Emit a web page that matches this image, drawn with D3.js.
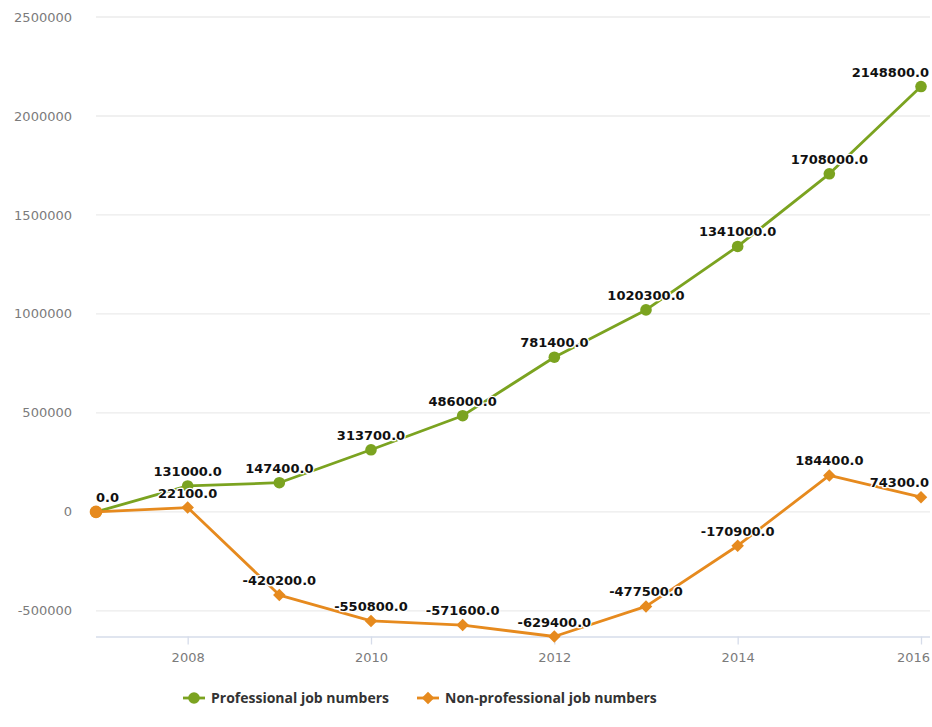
<!DOCTYPE html>
<html>
<head>
<meta charset="utf-8">
<script src="https://cdn.jsdelivr.net/npm/d3@7"></script>
<style>
  html, body { margin: 0; padding: 0; background: #fff; }
  svg { display: block; }
</style>
</head>
<body>
<svg id="chart" width="932" height="727"></svg>
<script>
// Job number changes by year
const years = [2007, 2008, 2009, 2010, 2011, 2012, 2013, 2014, 2015, 2016];
const professional = [0, 131000, 147400, 313700, 486000, 781400, 1020300, 1341000, 1708000, 2148800];
const nonProfessional = [0, 22100, -420200, -550800, -571600, -629400, -477500, -170900, 184400, 74300];
const seriesNames = ["Professional job numbers", "Non-professional job numbers"];
const yTicks = [-500000, 0, 500000, 1000000, 1500000, 2000000, 2500000];
const xTicks = [2008, 2010, 2012, 2014, 2016];

const colors = ["#7ba320", "#e68a1e"];

const svg = d3.select("#chart");
const W = 932;

const x = d3.scaleLinear().domain([2007, 2016]).range([96, 921]);
const y = d3.scaleLinear().domain([-629400, 2500000]).range([636.5, 17]);

// plain hyphen-minus for negatives, one decimal place
const fmtValue = v => (v < 0 ? "-" : "") + Math.abs(v).toFixed(1);

// horizontal grid lines
svg.append("g").selectAll("line")
  .data(yTicks)
  .join("line")
  .attr("x1", 96).attr("x2", 930)
  .attr("y1", d => y(d)).attr("y2", d => y(d))
  .attr("stroke", "#ebebeb").attr("stroke-width", 1.3);

// y tick labels
svg.append("g").selectAll("text")
  .data(yTicks)
  .join("text")
  .attr("x", 72).attr("y", d => y(d))
  .attr("dy", "0.35em")
  .attr("text-anchor", "end")
  .attr("font-family", "DejaVu Sans, sans-serif")
  .attr("font-size", 13)
  .attr("fill", "#7b7b7b")
  .text(d => (d < 0 ? "-" : "") + Math.abs(d));

// x axis
const xAxis = d3.axisBottom(x)
  .tickValues(xTicks)
  .tickFormat(d3.format("d"))
  .tickSize(8)
  .tickPadding(8);
const gx = svg.append("g")
  .attr("transform", `translate(0,${y(-629400)})`)
  .call(xAxis);
gx.select(".domain").attr("d", `M96,0.5H930`).attr("stroke", "#d6dcea").attr("stroke-width", 1.5);
gx.selectAll(".tick line").attr("stroke", "#d6dcea").attr("stroke-width", 1.3);
gx.selectAll(".tick text")
  .attr("font-family", "DejaVu Sans, sans-serif")
  .attr("font-size", 13)
  .attr("fill", "#7b7b7b");
// keep the last year label inside the canvas
gx.selectAll(".tick text").each(function () {
  const w = this.getComputedTextLength();
  const t = d3.select(this.parentNode).attr("transform");
  const tx = +/translate\(([-\d.]+)/.exec(t)[1];
  if (tx + w / 2 > W - 2) d3.select(this).attr("x", W - 2 - w / 2 - tx);
});

const series = [professional, nonProfessional];
const line = d3.line().x((d, i) => x(years[i])).y(d => y(d));

series.forEach((vals, s) => {
  svg.append("path")
    .datum(vals)
    .attr("d", line)
    .attr("fill", "none")
    .attr("stroke", colors[s])
    .attr("stroke-width", 2.8)
    .attr("stroke-linejoin", "round");
});

// markers
svg.append("g").selectAll("circle")
  .data(professional)
  .join("circle")
  .attr("cx", (d, i) => x(years[i]))
  .attr("cy", d => y(d))
  .attr("r", 5.8)
  .attr("fill", colors[0]);

const diamond = d3.symbol().type(d3.symbolDiamond2).size(100);
svg.append("g").selectAll("path")
  .data(nonProfessional)
  .join("path")
  .attr("transform", (d, i) => `translate(${x(years[i])},${y(d)})`)
  .attr("d", (d, i) => i === 0 ? d3.symbol().type(d3.symbolCircle).size(125)() : diamond())
  .attr("fill", colors[1]);

// value labels, kept inside the chart width
function drawLabels(vals) {
  const g = svg.append("g");
  vals.forEach((v, i) => {
    const t = g.append("text")
      .attr("y", y(v) - 10)
      .attr("font-family", "DejaVu Sans, sans-serif")
      .attr("font-weight", "bold")
      .attr("font-size", 13)
      .attr("fill", "#111")
      .attr("stroke", "#fff")
      .attr("stroke-width", 2.5)
      .attr("paint-order", "stroke")
      .attr("stroke-linejoin", "round")
      .text(fmtValue(v));
    const w = t.node().getComputedTextLength();
    let left = x(years[i]) - w / 2;
    left = Math.max(96, Math.min(left, W - 3 - w));
    t.attr("x", left);
  });
}
drawLabels(professional);
drawLabels(nonProfessional);

// legend
const legend = svg.append("g").attr("transform", "translate(0,698)");
const legendX = [183, 417];
seriesNames.forEach((name, s) => {
  const g = legend.append("g").attr("transform", `translate(${legendX[s]},0)`);
  g.append("line").attr("x1", 0).attr("x2", 22).attr("y1", 0).attr("y2", 0)
    .attr("stroke", colors[s]).attr("stroke-width", 2.8);
  if (s === 0) {
    g.append("circle").attr("cx", 11).attr("cy", 0).attr("r", 5.8).attr("fill", colors[s]);
  } else {
    g.append("path").attr("transform", "translate(11,0)").attr("d", diamond()).attr("fill", colors[s]);
  }
  g.append("text")
    .attr("x", 28).attr("y", 0).attr("dy", "0.35em")
    .attr("font-family", "Open Sans, sans-serif")
    .attr("font-weight", "bold")
    .attr("font-size", 14)
    .attr("fill", "#333")
    .text(name);
});
</script>
</body>
</html>
